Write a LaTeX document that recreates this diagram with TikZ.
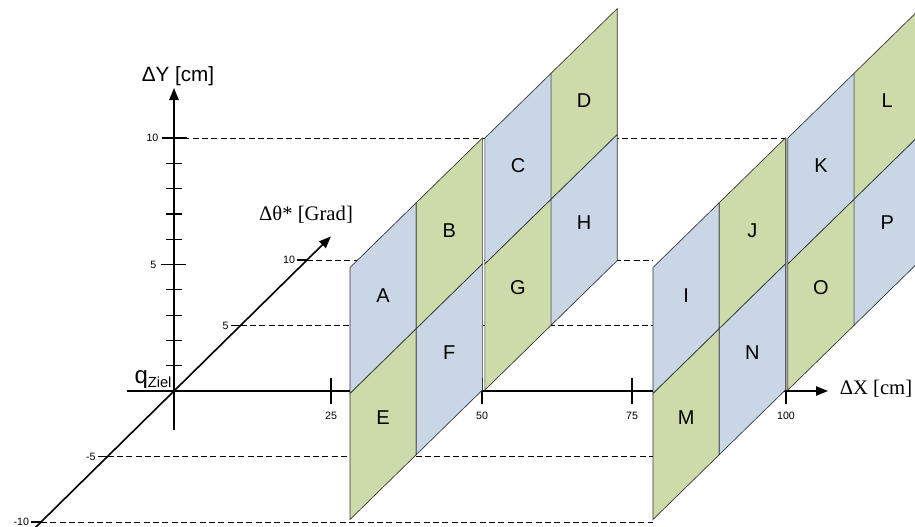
\documentclass[tikz,border=0pt]{standalone}
\usepackage{fontspec}
\setmainfont{Liberation Serif}
\setsansfont{Liberation Sans}
\usetikzlibrary{arrows.meta,calc}

\definecolor{cellblue}{RGB}{201,214,229}
\definecolor{cellgreen}{RGB}{205,219,170}

% panel geometry (in pixels of the picture)
\newcommand{\cellw}{66.2}
\newcommand{\cellh}{126}
\newcommand{\cellrise}{64.75}
\newcommand{\cellgap}{2.5}
\newcommand{\panelbase}{519.5}

\tikzset{
  % axes with filled triangle tips
  axis/.style      = {line width=1.2pt, -{Triangle[length=9pt,width=7pt]}},
  tickmark/.style  = {line width=0.9pt},
  % dashed guide lines
  guide/.style     = {dashed, dash pattern=on 4.5pt off 2.5pt, line width=0.55pt},
  % panel cells
  cell/.style      = {draw=black!80, line width=0.5pt},
  gapfill/.style   = {fill=black!35},
  celllabel/.style = {font=\sffamily\fontsize{15}{17}\selectfont, inner sep=0pt},
  ticklabel/.style = {font=\sffamily\fontsize{8}{9}\selectfont, inner sep=1pt},
  axislabel/.style = {font=\fontsize{15.5}{18}\selectfont, inner sep=0pt},
}

\begin{document}
\begin{tikzpicture}[x=0.75pt, y=-0.75pt]
  \useasboundingbox (0,0) rectangle (915,526);

  % reference points of the axes
  \coordinate (origin) at (174,391);
  \coordinate (t10)    at (307,260);
  \coordinate (xstart) at (127,391);
  \coordinate (xtip)   at (828,391);
  \coordinate (ybot)   at (174,430);
  \coordinate (ytip)   at (174,88);
  \coordinate (tbot)   at ($(origin)!-1.1!(t10)$);
  \coordinate (ttip)   at ($(origin)!1.18!(t10)$);
  \coordinate (y10)    at (174,138);
  \coordinate (y5)     at (174,264.5);
  \coordinate (pan2)   at (653,0);
  \coordinate (redge)  at (915,0);

  % --- dashed guides ---
  \draw[guide] (y10) -- (y10 -| redge);
  \foreach \k in {-10,-5,5,10} {
    \coordinate (tp) at ($(origin)!\k/10!(t10)$);
    \draw[guide] (tp) -- (tp -| pan2);
    \draw[tickmark] (tp) -- ++(-10,0) node[ticklabel, left] (tl\k) {\k};
  }

  % --- axes ---
  \draw[axis] (xstart) -- (xtip);
  \draw[axis] (ybot) -- (ytip);
  \draw[axis] (tbot) -- (ttip);

  % Y ticks
  \foreach \v in {1,2,3,4,6,7,8,9}
    \draw[tickmark] (166,391-25.3*\v) -- ++(16,0);
  \draw[tickmark] (y10) ++(-12,0) -- ++(25,0);
  \draw[tickmark] (y5) ++(-13,0) -- ++(25,0);
  \node[ticklabel, left] (yl10) at (160,138) {10};
  \node[ticklabel, left] (yl5)  at (158,264.5) {5};

  % X ticks
  \foreach \px/\v in {331/25, 482/50, 632/75, 786/100} {
    \draw[tickmark] (\px,378) -- (\px,404);
    \node[ticklabel] (xl\v) at (\px,416) {\v};
  }

  % --- panels ---
  \fill[gapfill] (653+2*\cellw,\panelbase-2*\cellrise) rectangle ++(\cellgap,-2*\cellh);
  \foreach \bx/\c/\r/\lab/\col in {
      350/0/1/A/cellblue, 350/1/1/B/cellgreen, 350/2/1/C/cellblue, 350/3/1/D/cellgreen,
      350/0/0/E/cellgreen, 350/1/0/F/cellblue, 350/2/0/G/cellgreen, 350/3/0/H/cellblue,
      653/0/1/I/cellblue, 653/1/1/J/cellgreen, 653/2/1/K/cellblue, 653/3/1/L/cellgreen,
      653/0/0/M/cellgreen, 653/1/0/N/cellblue, 653/2/0/O/cellgreen, 653/3/0/P/cellblue} {
    \pgfmathsetmacro\xl{\bx+\c*\cellw+(\c>1)*\cellgap}
    \pgfmathsetmacro\xr{\xl+\cellw}
    \pgfmathsetmacro\yb{\panelbase-\c*\cellrise-\r*\cellh}
    \pgfmathsetmacro\xm{\xl+\cellw/2}
    \pgfmathsetmacro\ym{\yb-\cellrise/2-\cellh/2-7+4*\r}
    \filldraw[cell, fill=\col] (\xl,\yb) -- (\xr,\yb-\cellrise)
        -- (\xr,\yb-\cellrise-\cellh) -- (\xl,\yb-\cellh) -- cycle;
    \node[celllabel] (cell\lab) at (\xm,\ym) {\lab};
  }

  % --- axis labels ---
  \node[axislabel, font=\sffamily\fontsize{15.5}{18}\selectfont] (ylab) at (178,76) {ΔY [cm]};
  \node[axislabel] (tlab) at (306,215) {Δθ* [Grad]};
  \node[axislabel] (xlab) at (876,389) {ΔX [cm]};
  \node[font=\sffamily, inner sep=0pt] (qziel) at (153,380)
       {{\fontsize{18}{20}\selectfont q}{\fontsize{11}{13}\selectfont\raisebox{-3pt}{Ziel}}};

\end{tikzpicture}
\end{document}
